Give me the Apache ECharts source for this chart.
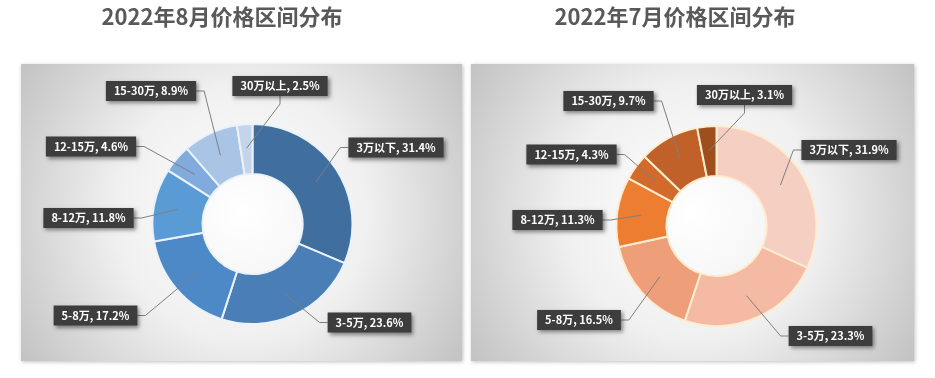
<!DOCTYPE html>
<html><head><meta charset="utf-8">
<script src="https://cdn.jsdelivr.net/npm/echarts@6/dist/echarts.min.js"></script>
<style>html,body{margin:0;padding:0;background:#fff}#c{width:935px;height:378px}</style>
</head><body><div id="c"></div>
<script>
// ---- data ----
const categories = ['3万以下', '3-5万', '5-8万', '8-12万', '12-15万', '15-30万', '30万以上'];
const augValues = [31.4, 23.6, 17.2, 11.8, 4.6, 8.9, 2.5];
const julValues = [31.9, 23.3, 16.5, 11.3, 4.3, 9.7, 3.1];
const titleTexts = ['2022年8月价格区间分布', '2022年7月价格区间分布'];

// ---- styles / layout ----
const blueColors = ['#3f6e9f', '#4a7eb7', '#4d89c6', '#5b9bd5', '#80abdc', '#a9c4e5', '#c3d4eb'];
const orangeColors = ['#f6cfc3', '#f4baa3', '#ee9e79', '#ed7d31', '#d26a2b', '#c0612a', '#9e4f1d'];
const augLabelPos = [[396, 147.5], [369.5, 322.5], [95.5, 315.5], [88.5, 218], [91, 146.5], [151, 91], [280, 86]];
const julLabelPos = [[849, 150], [830.5, 336], [579, 320], [557.5, 220], [571.5, 154.5], [608.5, 101], [744.5, 95]];
const FONT = '"Noto Sans CJK SC", "Noto Sans", sans-serif';

function toData(values, colors) {
  return categories.map((name, i) => ({ name, value: values[i], itemStyle: { color: colors[i] } }));
}
function ring(center, values, colors, border) {
  return {
    type: 'pie', center, radius: [50, 100], startAngle: 90, clockwise: true,
    silent: true, animation: false, z: 2,
    label: { show: false }, labelLine: { show: false },
    itemStyle: { borderColor: border, borderWidth: 2 },
    emphasis: { disabled: true },
    data: toData(values, colors)
  };
}
function labels(center, values, pos) {
  return {
    type: 'pie', center, radius: [0, 76], startAngle: 90, clockwise: true,
    silent: true, animation: false, z: 5, avoidLabelOverlap: false,
    itemStyle: { color: 'rgba(0,0,0,0)', borderWidth: 0 },
    emphasis: { disabled: true },
    label: {
      show: true, position: 'outside',
      formatter: p => p.name + ', ' + p.value.toFixed(1) + '%',
      color: '#ffffff', fontFamily: FONT, fontWeight: 'bold', fontSize: 11, lineHeight: 13,
      backgroundColor: '#3d3d3d', padding: [4, 8, 3, 8],
      shadowColor: 'rgba(0,0,0,0.45)', shadowBlur: 4, shadowOffsetX: 2, shadowOffsetY: 2
    },
    labelLine: { show: true, length: 6, length2: 8, smooth: false,
      lineStyle: { color: '#7f7f7f', width: 1 } },
    labelLayout: p => ({ x: pos[p.dataIndex][0], y: pos[p.dataIndex][1], align: 'center', verticalAlign: 'middle' }),
    data: categories.map((name, i) => ({ name, value: values[i] }))
  };
}
function panel(x, y, w, h) {
  return {
    type: 'rect', shape: { x, y, width: w, height: h }, z: -10,
    style: {
      fill: { type: 'radial', x: 0.5, y: 0.5, r: 0.95, colorStops: [
        { offset: 0, color: '#ffffff' }, { offset: 0.45, color: '#f0f0f0' }, { offset: 1, color: '#bdbdbd' }] },
      shadowColor: 'rgba(0,0,0,0.25)', shadowBlur: 4, shadowOffsetX: 1, shadowOffsetY: 1
    }
  };
}
function title(x, text) {
  return { type: 'text', x, y: 17, z: 10,
    style: { text, align: 'center', verticalAlign: 'middle', fill: '#595959',
      font: 'bold 22px ' + FONT } };
}

const chart = echarts.init(document.getElementById('c'), null, { renderer: 'canvas' });
chart.setOption({
  backgroundColor: '#ffffff',
  animation: false,
  graphic: [
    panel(21, 64, 441, 297),
    panel(471, 64, 443, 297),
    title(222, titleTexts[0]),
    title(675, titleTexts[1])
  ],
  series: [
    ring([252.5, 224], augValues, blueColors, '#eaf2fa'),
    labels([252.5, 224], augValues, augLabelPos),
    ring([716.5, 226], julValues, orangeColors, '#fdecd0'),
    labels([716.5, 226], julValues, julLabelPos)
  ]
});
</script></body></html>
